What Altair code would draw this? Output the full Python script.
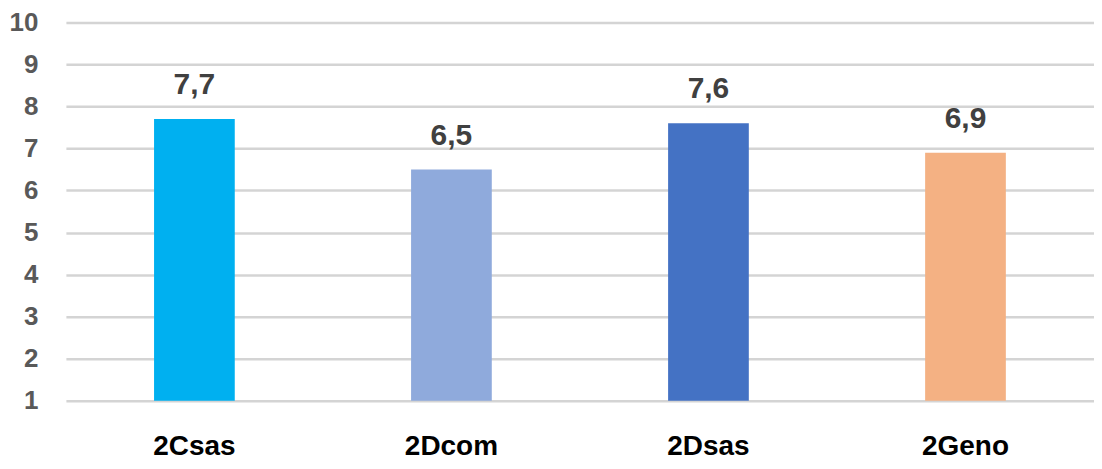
import altair as alt
import pandas as pd

categories = ["2Csas", "2Dcom", "2Dsas", "2Geno"]
values = [7.7, 6.5, 7.6, 6.9]
colors = ["#00B0F0", "#8FAADC", "#4472C4", "#F4B183"]
y_ticks = [1, 2, 3, 4, 5, 6, 7, 8, 9, 10]

df = pd.DataFrame({"cat": categories, "value": values})

FONT = "Liberation Sans"

x_enc = alt.X(
    "cat:N",
    sort=categories,
    scale=alt.Scale(paddingInner=0.686, paddingOuter=0.343),
    axis=alt.Axis(
        title=None, labelAngle=0, labelFont=FONT, labelFontSize=28,
        labelFontWeight="bold", labelColor="#000000", labelPadding=32,
        ticks=False, domain=False, grid=False,
    ),
)

y_enc = alt.Y(
    "value:Q",
    scale=alt.Scale(domain=[1, 10], zero=False, nice=False),
    axis=alt.Axis(
        title=None, values=y_ticks, labelFont=FONT, labelFontSize=26,
        labelFontWeight="bold", labelColor="#595959", labelPadding=28,
        ticks=False, domain=False, grid=True, gridColor="#D4D4D4",
        gridWidth=2.5,
    ),
)

bars = alt.Chart(df).mark_bar().encode(
    x=x_enc,
    y=y_enc,
    y2=alt.datum(1),
    color=alt.Color("cat:N", scale=alt.Scale(domain=categories, range=colors), legend=None),
)

labels = alt.Chart(df).transform_calculate(
    label="replace(format(datum.value, '.1f'), '.', ',')"
).mark_text(
    font=FONT, fontSize=30, fontWeight="bold", color="#404040",
    baseline="alphabetic", dy=-25,
).encode(
    x=alt.X("cat:N", sort=categories),
    y=alt.Y("value:Q"),
    text="label:N",
)

chart = (bars + labels).properties(
    width=1030, height=379,
    autosize=alt.AutoSizeParams(type="none"),
    padding={"left": 58, "top": 14, "right": 0, "bottom": 60},
).configure_view(stroke=None)

chart.save("out.html", embed_options={"renderer": "svg", "actions": False})
